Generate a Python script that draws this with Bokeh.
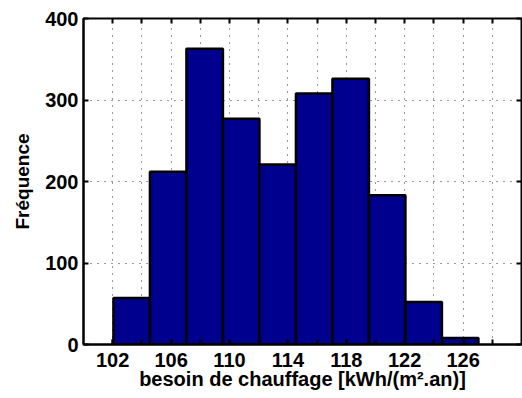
from bokeh.plotting import figure
from bokeh.models import LinearAxis, FixedTicker, Range1d
from bokeh.embed import file_html
from bokeh.resources import INLINE

# Data
bin_centers = [103.3, 105.8, 108.3, 110.8, 113.3, 115.8, 118.3, 120.8, 123.3, 125.8]
bin_width = 2.5
counts = [57, 212, 363, 277, 221, 308, 326, 183, 52, 8]
x_ticks = list(range(102, 130, 2))
x_labels = [102, 106, 110, 114, 118, 122, 126]
y_ticks = [0, 100, 200, 300, 400]

FONT = "Liberation Sans"

p = figure(frame_width=438, frame_height=326, output_backend="svg", toolbar_location=None,
           x_range=Range1d(100, 130), y_range=Range1d(0, 400),
           min_border_left=83, min_border_right=1, min_border_top=18, min_border_bottom=54,
           x_axis_label="besoin de chauffage [kWh/(m².an)]", y_axis_label="Fréquence")
p.background_fill_color = "white"
p.border_fill_color = "white"
p.outline_line_color = "black"
p.outline_line_width = 2

p.vbar(x=bin_centers, top=counts, width=bin_width, bottom=0,
       fill_color="#00008F", line_color="black", line_width=2.5)

p.xaxis.ticker = FixedTicker(ticks=x_labels, minor_ticks=x_ticks)
p.yaxis.ticker = FixedTicker(ticks=y_ticks)

for ax in list(p.xaxis) + list(p.yaxis):
    ax.axis_line_color = "black"
    ax.axis_line_width = 2
    ax.major_tick_in = 5
    ax.major_tick_out = 0
    ax.major_tick_line_width = 2
    ax.minor_tick_in = 5
    ax.minor_tick_out = 0
    ax.minor_tick_line_width = 2
    ax.minor_tick_line_color = "black"
    ax.major_label_text_font = FONT
    ax.major_label_text_font_style = "bold"
    ax.major_label_text_font_size = "20px"
    ax.major_label_text_color = "black"
    ax.axis_label_text_font = FONT
    ax.axis_label_text_font_style = "bold"
    ax.axis_label_text_color = "black"
    ax.axis_label_text_font_size = "20px"

p.yaxis.axis_label_text_font_size = "19px"
p.xaxis.major_label_standoff = 8
p.xaxis.axis_label_standoff = -2
p.yaxis.major_label_standoff = 5
p.yaxis.axis_label_standoff = 9

top = LinearAxis(ticker=FixedTicker(ticks=[], minor_ticks=x_ticks),
                 major_label_standoff=0, axis_line_color=None, major_tick_line_color=None,
                 minor_tick_in=5, minor_tick_out=0, minor_tick_line_width=2,
                 minor_tick_line_color="black")
right = LinearAxis(ticker=FixedTicker(ticks=[], minor_ticks=y_ticks),
                   major_label_standoff=0, axis_line_color=None, major_tick_line_color=None,
                   minor_tick_in=5, minor_tick_out=0, minor_tick_line_width=2,
                   minor_tick_line_color="black")
p.add_layout(top, "above")
p.add_layout(right, "right")

p.xgrid.ticker = FixedTicker(ticks=x_ticks)
p.ygrid.ticker = FixedTicker(ticks=y_ticks)
for g in [p.xgrid, p.ygrid]:
    g.grid_line_color = "black"
    g.grid_line_width = 1
    g.grid_line_dash = "1 6"
    g.grid_line_alpha = 0.8
    g.level = "underlay"

open("out.html", "w").write(file_html(p, INLINE))
